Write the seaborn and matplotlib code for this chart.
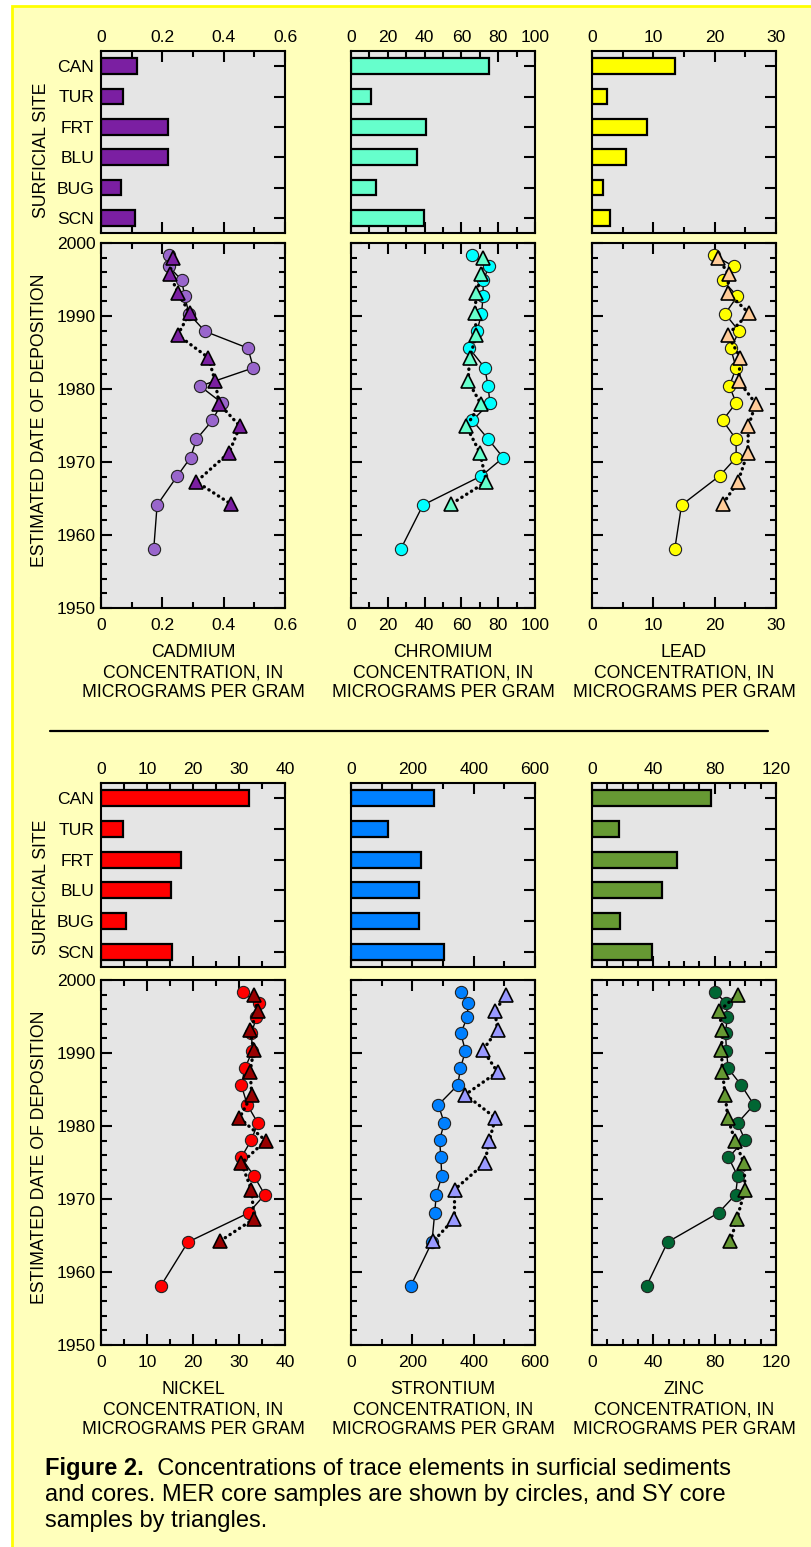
import numpy as np
import pandas as pd
import matplotlib
matplotlib.use("Agg")
import matplotlib.pyplot as plt
import seaborn as sns
from matplotlib.patches import Rectangle
from matplotlib.lines import Line2D
from matplotlib.ticker import MultipleLocator, FixedLocator, FixedFormatter

# ---------------- data ----------------
sites = ["CAN", "TUR", "FRT", "BLU", "BUG", "SCN"]

cadmium_surface = [0.117, 0.071, 0.219, 0.219, 0.064, 0.112]
chromium_surface = [75.0, 10.7, 40.6, 36.0, 13.8, 39.7]
lead_surface = [13.5, 2.5, 9.0, 5.5, 1.8, 3.0]
nickel_surface = [32.2, 4.7, 17.4, 15.3, 5.4, 15.4]
strontium_surface = [271, 120, 229, 222, 222, 302]
zinc_surface = [77.6, 17.3, 55.3, 45.8, 18.0, 39.0]

mer_years = [1998.3, 1996.8, 1994.9, 1992.7, 1990.3, 1987.9, 1985.6, 1982.9,
             1980.4, 1978.1, 1975.7, 1973.1, 1970.6, 1968.1, 1964.1, 1958.1]
sy_years = [1998.0, 1995.7, 1993.2, 1990.4, 1987.4, 1984.3, 1981.1, 1978.0,
            1974.9, 1971.3, 1967.3, 1964.2]

cadmium_mer = [0.221, 0.221, 0.263, 0.273, 0.287, 0.339, 0.479, 0.497,
               0.323, 0.394, 0.363, 0.311, 0.292, 0.249, 0.183, 0.172]
cadmium_sy = [0.235, 0.224, 0.251, 0.289, 0.250, 0.350, 0.372, 0.385,
              0.453, 0.418, 0.311, 0.425]
chromium_mer = [66.0, 75.1, 71.8, 71.8, 70.9, 68.5, 64.2, 72.7,
                74.5, 75.5, 66.0, 74.7, 82.7, 70.9, 39.1, 27.1]
chromium_sy = [71.8, 70.9, 68.2, 67.3, 68.2, 64.5, 63.6, 70.5,
               62.7, 70.0, 73.6, 54.2]
lead_mer = [19.9, 23.1, 21.3, 23.7, 21.7, 24.0, 22.6, 23.5,
            22.4, 23.5, 21.3, 23.5, 23.5, 20.8, 14.6, 13.5]
lead_sy = [20.5, 22.3, 22.1, 25.6, 22.1, 24.2, 23.9, 26.7,
           25.5, 25.4, 23.8, 21.3]
nickel_mer = [30.8, 34.3, 33.8, 32.7, 32.9, 31.3, 30.5, 31.8,
              34.1, 32.7, 30.5, 33.3, 35.6, 32.1, 18.9, 13.0]
nickel_sy = [33.2, 34.1, 32.4, 33.2, 32.4, 32.8, 30.1, 35.8,
             30.5, 32.7, 33.3, 25.8]
strontium_mer = [360, 382, 379, 358, 373, 357, 348, 285,
                 304, 289, 293, 296, 278, 273, 264, 195]
strontium_sy = [506, 469, 478, 430, 478, 373, 471, 451,
                436, 338, 337, 268]
zinc_mer = [80.5, 87.7, 88.2, 87.1, 87.7, 88.8, 97.3, 105.6,
            94.9, 99.7, 89.0, 95.1, 93.6, 82.5, 49.3, 35.6]
zinc_sy = [94.9, 82.7, 85.1, 84.4, 85.1, 86.8, 88.6, 93.2,
           99.1, 99.9, 94.5, 90.3]

element_names = ["CADMIUM", "CHROMIUM", "LEAD", "NICKEL", "STRONTIUM", "ZINC"]
cadmium_ticks = [0, 0.2, 0.4, 0.6]
cadmium_ticklabels = ["0", "0.2", "0.4", "0.6"]
chromium_ticks = [0, 20, 40, 60, 80, 100]
chromium_ticklabels = ["0", "20", "40", "60", "80", "100"]
lead_ticks = [0, 10, 20, 30]
lead_ticklabels = ["0", "10", "20", "30"]
nickel_ticks = [0, 10, 20, 30, 40]
nickel_ticklabels = ["0", "10", "20", "30", "40"]
strontium_ticks = [0, 200, 400, 600]
strontium_ticklabels = ["0", "200", "400", "600"]
zinc_ticks = [0, 40, 80, 120]
zinc_ticklabels = ["0", "40", "80", "120"]
minor_steps = [0.1, 10, 5, 5, 100, 10]
year_ticks = [1950, 1960, 1970, 1980, 1990, 2000]
year_ticklabels = ["1950", "1960", "1970", "1980", "1990", "2000"]

caption_bold = "Figure 2."
caption_line1 = "  Concentrations of trace elements in surficial sediments"
caption_line2 = "and cores. MER core samples are shown by circles, and SY core"
caption_line3 = "samples by triangles."

# ---------------- style ----------------
sns.set_style("white")
plt.rcParams["font.family"] = ["Liberation Sans", "DejaVu Sans"]
plt.rcParams["axes.edgecolor"] = "black"
plt.rcParams["axes.linewidth"] = 1.5
plt.rcParams["xtick.color"] = "black"
plt.rcParams["ytick.color"] = "black"
plt.rcParams["text.color"] = "black"
plt.rcParams["axes.labelcolor"] = "black"

W, H = 811, 1547
fig = plt.figure(figsize=(W / 100, H / 100), dpi=100)
fig.patch.set_facecolor("white")
fig.add_artist(Rectangle((12 / W, -0.01), 1.2, 1 - 6 / H + 0.01,
                         transform=fig.transFigure, facecolor="#FFFFBB",
                         edgecolor="#FFFF00", linewidth=2, zorder=-10))

def rect(left, top, width, bottom):
    return [left / W, 1 - bottom / H, width / W, (bottom - top) / H]

col_left = [101, 351, 592]
col_w = 184
groups = [(51, 233, 243, 608), (783, 967, 980, 1345)]

surfaces = [cadmium_surface, chromium_surface, lead_surface,
            nickel_surface, strontium_surface, zinc_surface]
mers = [cadmium_mer, chromium_mer, lead_mer, nickel_mer, strontium_mer, zinc_mer]
sys_ = [cadmium_sy, chromium_sy, lead_sy, nickel_sy, strontium_sy, zinc_sy]
ticks_all = [cadmium_ticks, chromium_ticks, lead_ticks, nickel_ticks,
             strontium_ticks, zinc_ticks]
ticklabels_all = [cadmium_ticklabels, chromium_ticklabels, lead_ticklabels,
                  nickel_ticklabels, strontium_ticklabels, zinc_ticklabels]
bar_colors = ["#7B1FA2", "#66FFCC", "#FFFF00", "#FF0000", "#0080FF", "#669933"]
circle_colors = ["#9966CC", "#00FFFF", "#FFFF00", "#FF0000", "#0080FF", "#006633"]
tri_colors = ["#7B1FA2", "#66FFCC", "#FFCC99", "#990000", "#9999FF", "#669933"]

FS_TICK = 12.6
FS_LABEL = 12.7

for i in range(6):
    g, c = divmod(i, 3)
    bt, bb, ct, cb = groups[g]
    ticks = ticks_all[i]
    xmax = ticks[-1]

    # --- surficial bar axes ---
    axb = fig.add_axes(rect(col_left[c], bt, col_w, bb))
    axb.set_facecolor("#E5E5E5")
    df = pd.DataFrame({"site": sites, "value": surfaces[i]})
    sns.barplot(data=df, x="value", y="site", orient="h", color=bar_colors[i],
                saturation=1, edgecolor="black", linewidth=1.6, width=0.52,
                errorbar=None, ax=axb)
    axb.set_xlim(0, xmax)
    axb.set_ylim(5.5, -0.5)
    axb.set_xlabel("")
    axb.set_ylabel("")
    axb.xaxis.set_major_locator(FixedLocator(ticks))
    axb.xaxis.set_major_formatter(FixedFormatter(ticklabels_all[i]))
    axb.xaxis.set_minor_locator(MultipleLocator(minor_steps[i]))
    axb.tick_params(axis="x", which="both", direction="in", top=True, bottom=True,
                    labeltop=True, labelbottom=False, labelsize=FS_TICK, pad=4)
    axb.tick_params(axis="y", which="both", direction="in", left=True, right=True,
                    labelleft=(c == 0), labelsize=FS_TICK, pad=5)
    axb.tick_params(which="major", length=8, width=1.5)
    axb.tick_params(which="minor", length=4, width=1.5)
    for s in axb.spines.values():
        s.set_linewidth(1.5)
        s.set_color("black")

    # --- core axes ---
    axc = fig.add_axes(rect(col_left[c], ct, col_w, cb))
    axc.set_facecolor("#E5E5E5")
    sns.lineplot(x=mers[i], y=mer_years, sort=False, estimator=None, color="black",
                 linewidth=1.0, marker="o", markersize=8.8,
                 markerfacecolor=circle_colors[i], markeredgecolor="#222222",
                 markeredgewidth=0.8, ax=axc, zorder=3)
    sns.lineplot(x=sys_[i], y=sy_years, sort=False, estimator=None, color="black",
                 linewidth=2.4, linestyle=(0, (0.1, 1.6)), dash_capstyle="round",
                 marker="^", markersize=10, markerfacecolor=tri_colors[i],
                 markeredgecolor="black", markeredgewidth=1.2, ax=axc, zorder=4)
    axc.set_xlim(0, xmax)
    axc.set_ylim(1950, 2000)
    axc.xaxis.set_major_locator(FixedLocator(ticks))
    axc.xaxis.set_major_formatter(FixedFormatter(ticklabels_all[i]))
    axc.xaxis.set_minor_locator(MultipleLocator(minor_steps[i]))
    axc.yaxis.set_major_locator(FixedLocator(year_ticks))
    axc.yaxis.set_major_formatter(FixedFormatter(year_ticklabels))
    axc.yaxis.set_minor_locator(MultipleLocator(2))
    axc.tick_params(axis="x", which="both", direction="in", top=True, bottom=True,
                    labeltop=False, labelbottom=True, labelsize=FS_TICK, pad=7)
    axc.tick_params(axis="y", which="both", direction="in", left=True, right=True,
                    labelleft=(c == 0), labelsize=FS_TICK, pad=4)
    axc.tick_params(which="major", length=8, width=1.5)
    axc.tick_params(which="minor", length=4, width=1.5)
    for s in axc.spines.values():
        s.set_linewidth(1.5)
        s.set_color("black")
    axc.set_ylabel("")
    axc.set_xlabel(element_names[i] + "\nCONCENTRATION, IN\nMICROGRAMS PER GRAM",
                   fontsize=FS_LABEL, linespacing=1.25, labelpad=8)

# rotated group labels
for off in (0, 737):
    fig.text(41 / W, 1 - (150 + off) / H, "SURFICIAL SITE", rotation=90,
             ha="center", va="center", fontsize=FS_LABEL)
    fig.text(40 / W, 1 - (420 + off) / H, "ESTIMATED DATE OF DEPOSITION",
             rotation=90, ha="center", va="center", fontsize=FS_LABEL)

# separator
fig.add_artist(Line2D([50 / W, 768 / W], [1 - 731 / H, 1 - 731 / H],
                      color="black", linewidth=1.6))

# caption
cap_fs = 17
tb = fig.text(45 / W, 1 - 1475 / H, caption_bold, fontsize=cap_fs,
              fontweight="bold", va="baseline", ha="left")
overlay = fig.add_axes([0, 0, 1, 1])
overlay.axis("off")
overlay.annotate(caption_line1, xy=(1, 0), xycoords=tb, va="bottom", ha="left",
                 fontsize=cap_fs)
fig.text(45 / W, 1 - 1501 / H, caption_line2, fontsize=cap_fs, va="baseline", ha="left")
fig.text(45 / W, 1 - 1527 / H, caption_line3, fontsize=cap_fs, va="baseline", ha="left")

fig.savefig("out.png", dpi=100, facecolor=fig.get_facecolor())
